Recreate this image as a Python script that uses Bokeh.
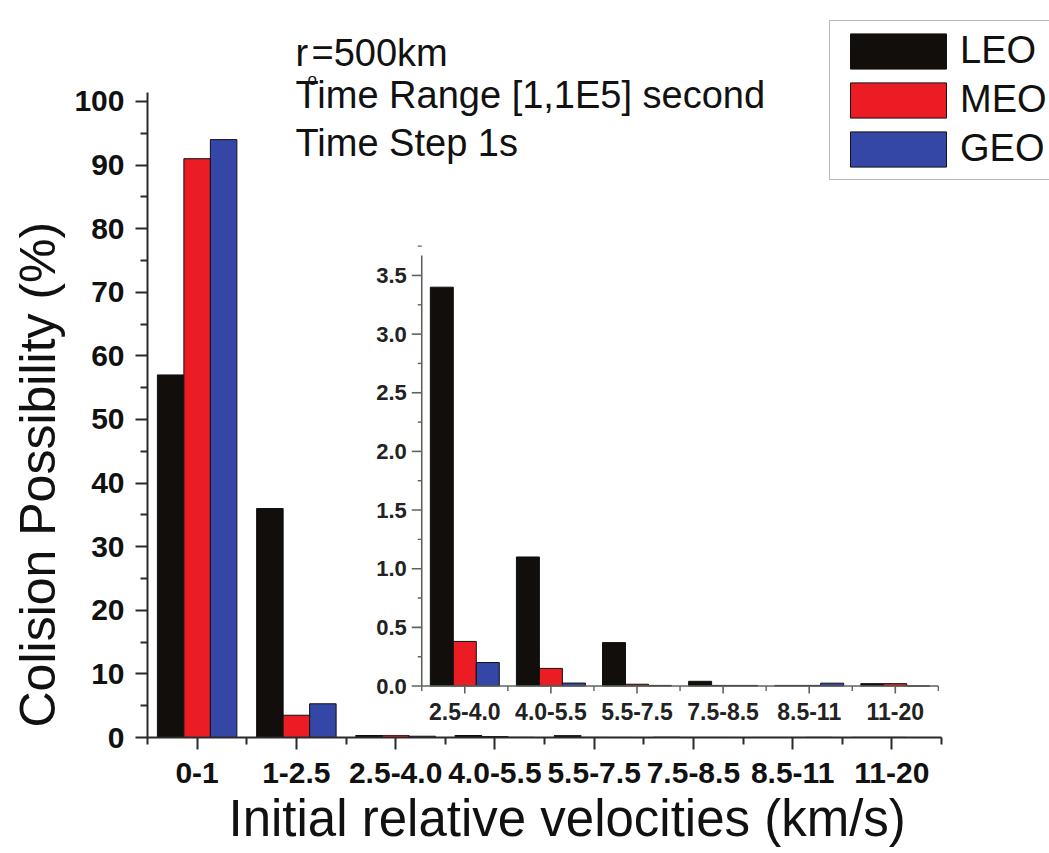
from bokeh.plotting import figure
from bokeh.models import Range1d, FixedTicker, Legend, LegendItem, Label, ColumnDataSource, Title
from bokeh.transform import dodge
from bokeh.core.properties import value
from bokeh.embed import file_html
from bokeh.resources import INLINE

# ---------------- data ----------------
categories = ["0-1", "1-2.5", "2.5-4.0", "4.0-5.5", "5.5-7.5", "7.5-8.5", "8.5-11", "11-20"]
leo = [57, 36, 3.4, 1.1, 0.37, 0.04, 0.005, 0.02]
meo = [91, 3.5, 0.38, 0.15, 0.015, 0.005, 0.005, 0.02]
geo = [94, 5.3, 0.2, 0.025, 0.005, 0.005, 0.024, 0.0]
series_names = ["LEO", "MEO", "GEO"]
y_ticks = [0, 10, 20, 30, 40, 50, 60, 70, 80, 90, 100]
inset_start = 2
inset_categories = categories[inset_start:]
inset_y_ticks = [0.0, 0.5, 1.0, 1.5, 2.0, 2.5, 3.0, 3.5]
inset_y_labels = ["0.0", "0.5", "1.0", "1.5", "2.0", "2.5", "3.0", "3.5"]

colors = ["#110e0c", "#ec1c24", "#3547a6"]
FONT = "Liberation Sans"

# ---------------- layout (pixels) ----------------
W, H = 1049, 853
FL = 147                    # frame left
FW = W - FL                 # frame reaches right edge
FT = 0                      # frame reaches top edge
FB = 737                    # frame bottom (y = 0)
FH = FB - FT
CAT_PX = 99.25              # px per category (main)
Y_PX = 6.3605               # px per % (main)
X_END = -0.5 + FW / CAT_PX
Y_END = FH / Y_PX
AX_X_BOUNDS = (-0.5, len(categories) - 0.5)
AX_Y_BOUNDS = (0, 101.4)

def xd(px):  # main data x from pixel
    return (px - FL) / CAT_PX - 0.5

def yd(py):  # main data y from pixel
    return (FB - py) / Y_PX

# inset geometry
IX0, IXS = 464.3, 86.1      # pixel of inset category 0, px per category
IY0, IYS = 685.5, 117.3     # pixel of inset y=0, px per unit
IYTOP = 3.67

p = figure(frame_width=FW, frame_height=FH,
           min_border_left=FL, min_border_right=0,
           min_border_top=FT, min_border_bottom=H - FB,
           x_range=Range1d(-0.5, X_END), y_range=Range1d(0, Y_END),
           output_backend="svg", toolbar_location=None,
           background_fill_color="white", border_fill_color="white")
p.outline_line_color = None
p.grid.visible = False

p.extra_x_ranges = {"ix": Range1d((FL - IX0) / IXS, (FL + FW - IX0) / IXS)}
p.extra_y_ranges = {"iy": Range1d(-(FB - IY0) / IYS, (IY0 - FT) / IYS)}

# ---------------- axes ----------------
ax = p.xaxis[0]
ax.ticker = FixedTicker(ticks=list(range(len(categories))),
                        minor_ticks=[i - 0.5 for i in range(len(categories) + 1)])
ax.major_label_overrides = {i: c for i, c in enumerate(categories)}
ax.bounds = AX_X_BOUNDS
ay = p.yaxis[0]
ay.ticker = FixedTicker(ticks=y_ticks, minor_ticks=[t + 5 for t in y_ticks[:-1]])
ay.bounds = AX_Y_BOUNDS
for a in (ax, ay):
    a.axis_line_color = "#2a2a2a"
    a.axis_line_width = 2
    a.major_tick_line_color = "#2a2a2a"
    a.major_tick_line_width = 2
    a.minor_tick_line_color = "#2a2a2a"
    a.minor_tick_line_width = 2
    a.major_tick_in = 0
    a.minor_tick_in = 0
    a.major_tick_out = 12
    a.minor_tick_out = 7
    a.major_label_text_font = FONT
    a.major_label_text_font_style = "bold"
    a.major_label_text_font_size = "30px"
    a.major_label_text_color = "#111111"
ax.major_label_standoff = 13
ay.major_label_standoff = 11

# axis titles as side titles (allow offset along the axis)
p.add_layout(Title(text="Colision Possibility (%)", align="left", offset=10,
                   standoff=12, text_font=FONT, text_font_style="normal",
                   text_font_size="50px", text_color="#111111"), "left")
p.add_layout(Title(text="Initial relative velocities (km/s)", align="left", offset=228 - FL,
                   standoff=4, text_font=FONT, text_font_style="normal",
                   text_font_size="51px", text_color="#111111"), "below")

# ---------------- main bars ----------------
src = ColumnDataSource(dict(x=list(range(len(categories))), LEO=leo, MEO=meo, GEO=geo))
BW = 0.267
offsets = [-BW, 0.0, BW]
main_r = []
for name, col, off in zip(series_names, colors, offsets):
    r = p.vbar(x=dodge("x", off), top=name, width=BW, source=src,
               fill_color=col, line_color="#111111", line_width=1, level="image")
    main_r.append(r)

# ---------------- inset ----------------
# white panel behind the inset
p.quad(left=[-1.3], right=[5.8], bottom=[-(734.5 - IY0) / IYS], top=[IYTOP + 0.1],
       x_range_name="ix", y_range_name="iy",
       fill_color="white", line_color=None, level="underlay")

isrc = ColumnDataSource(dict(i=list(range(len(inset_categories))),
                             LEO=leo[inset_start:], MEO=meo[inset_start:], GEO=geo[inset_start:]))
for name, col, off in zip(series_names, colors, offsets):
    p.vbar(x=dodge("i", off), top=name, width=BW, source=isrc,
           x_range_name="ix", y_range_name="iy",
           fill_color=col, line_color="#111111", line_width=1)

n_in = len(inset_categories)
x_left = -0.5
x_right = n_in - 0.5
ACOL = "#5c655c"
# axis lines
p.segment(x0=[x_left, x_left], y0=[0, 0], x1=[x_left, x_right], y1=[IYTOP, 0],
          x_range_name="ix", y_range_name="iy", line_color=ACOL, line_width=1.6)
# y ticks
yminor = [t + 0.25 for t in inset_y_ticks]
p.segment(x0=[x_left - 10 / IXS] * len(inset_y_ticks), y0=inset_y_ticks,
          x1=[x_left] * len(inset_y_ticks), y1=inset_y_ticks,
          x_range_name="ix", y_range_name="iy", line_color=ACOL, line_width=1.6)
p.segment(x0=[x_left - 4 / IXS] * len(yminor), y0=yminor,
          x1=[x_left] * len(yminor), y1=yminor,
          x_range_name="ix", y_range_name="iy", line_color=ACOL, line_width=1.4)
# x ticks
xmaj = list(range(n_in))
xmin = [i - 0.5 for i in range(n_in + 1)]
p.segment(x0=xmaj, y0=[0] * n_in, x1=xmaj, y1=[-7.5 / IYS] * n_in,
          x_range_name="ix", y_range_name="iy", line_color=ACOL, line_width=1.6)
p.segment(x0=xmin, y0=[0] * len(xmin), x1=xmin, y1=[-5 / IYS] * len(xmin),
          x_range_name="ix", y_range_name="iy", line_color=ACOL, line_width=1.4)
# tick labels
p.text(x=[x_left - 15 / IXS] * len(inset_y_ticks), y=inset_y_ticks, text=inset_y_labels,
       x_range_name="ix", y_range_name="iy",
       text_align="right", text_baseline="middle",
       text_font=value(FONT), text_font_style="bold", text_font_size="22px", text_color="#222222")
p.text(x=xmaj, y=[-(711 - IY0) / IYS] * n_in, text=inset_categories,
       x_range_name="ix", y_range_name="iy",
       text_align="center", text_baseline="middle",
       text_font=value(FONT), text_font_style="bold", text_font_size="23px", text_color="#222222")

# ---------------- annotation text ----------------
def lab(px, py, txt, size):
    p.add_layout(Label(x=xd(px), y=yd(py), text=txt, text_font=FONT,
                       text_font_size=size, text_baseline="alphabetic",
                       text_align="left", text_color="#111111"))

lab(295, 52, "r", "38px")
lab(307, 79, "o", "17px")
lab(311, 52, "=500km", "38px")
lab(295, 94, "Time Range [1,1E5] second", "38px")
lab(295, 142, "Time Step 1s", "38px")

# ---------------- legend ----------------
GW, GH = 120, 44     # drawn swatch is 80% of the glyph box
PAD = 8
BOX_L = 849 - GW * 0.1 - PAD
BOX_T = 33 - GH * 0.1 - PAD
BOX_B = BOX_T + 2 * PAD + 3 * GH + 2 * 5.5
legend = Legend(items=[LegendItem(label=n, renderers=[r]) for n, r in zip(series_names, main_r)],
                location=(BOX_L - FL, FB - BOX_B),
                glyph_width=GW, glyph_height=GH, spacing=5, padding=PAD,
                label_standoff=2, margin=0,
                label_text_font=FONT, label_text_font_size="38px",
                label_text_color="#111111",
                border_line_color="#777777", border_line_width=1.5,
                background_fill_color="white", background_fill_alpha=1.0)
p.add_layout(legend)

open("out.html", "w").write(file_html(p, INLINE))
